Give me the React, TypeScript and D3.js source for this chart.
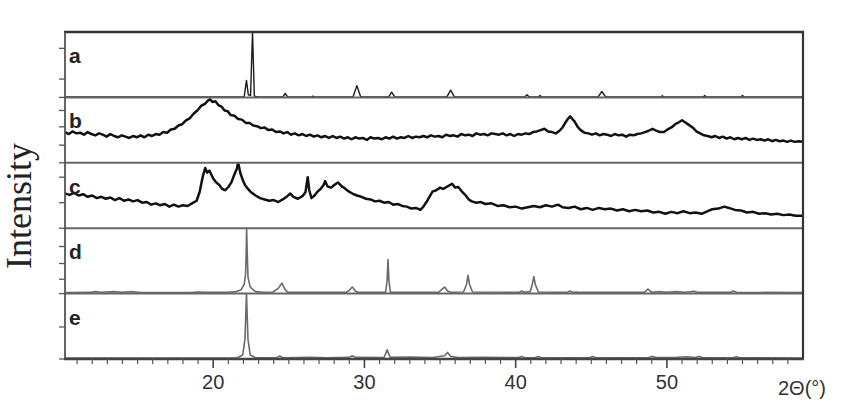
import React from 'react';
import * as d3 from 'd3';

type Pt = [number, number];

const panelLabels = ['a', 'b', 'c', 'd', 'e'];

// intensity in % of panel height, 2θ in degrees
const patternA: Pt[] = [
  [10.2, 0.6], [14.0, 0.8], [18.0, 0.6], [22.05, 0.8], [22.2, 26], [22.32, 4], [22.47, 3], [22.6, 100], [22.72, 2],
  [22.9, 0.7], [24.6, 0.7], [24.76, 6], [24.92, 0.7], [26.5, 0.6], [26.6, 2], [26.7, 0.6], [29.25, 0.9],
  [29.5, 18], [29.75, 0.9], [31.6, 0.7], [31.8, 8], [32.0, 0.7], [35.45, 0.9], [35.7, 11], [35.95, 0.9],
  [40.6, 0.7], [40.75, 4], [40.9, 0.7], [41.5, 0.6], [41.6, 3], [41.7, 0.6], [45.45, 0.9], [45.7, 9],
  [45.95, 0.9], [49.6, 0.6], [49.7, 2.5], [49.8, 0.6], [52.4, 0.6], [52.5, 3], [52.6, 0.6], [54.9, 0.6],
  [55.0, 3], [55.1, 0.6], [59.0, 0.6],
];

const patternB: Pt[] = [
  [10.2, 47], [10.45, 44], [10.7, 48], [10.95, 45], [11.2, 46], [11.45, 43], [11.7, 47], [11.95, 44], [12.2, 42],
  [12.45, 45], [12.7, 43], [12.95, 40], [13.2, 44], [13.45, 41], [13.7, 39], [13.95, 42], [14.2, 40], [14.45, 38],
  [14.7, 41], [14.95, 39], [15.2, 42], [15.45, 39], [15.7, 43], [15.95, 41], [16.2, 44], [16.45, 43], [16.7, 47],
  [16.95, 46], [17.2, 51], [17.45, 52], [17.7, 57], [17.95, 59], [18.2, 65], [18.45, 68], [18.7, 75], [18.95, 80],
  [19.2, 87], [19.45, 90], [19.65, 95], [19.8, 97], [19.95, 93], [20.15, 94], [20.35, 88], [20.55, 86], [20.75, 80],
  [20.95, 79], [21.15, 73], [21.4, 72], [21.65, 67], [21.9, 66], [22.15, 61], [22.4, 61], [22.65, 57], [22.9, 56],
  [23.15, 53], [23.4, 54], [23.65, 50], [23.9, 51], [24.15, 47], [24.4, 48], [24.65, 45], [24.9, 47], [25.15, 43],
  [25.4, 45], [25.65, 42], [25.9, 44], [26.15, 41], [26.4, 43], [26.65, 40], [26.9, 42], [27.15, 39], [27.4, 41],
  [27.65, 38], [27.9, 41], [28.15, 38], [28.4, 40], [28.65, 37], [28.9, 39], [29.15, 36], [29.4, 39], [29.65, 37],
  [29.9, 38], [30.15, 35], [30.4, 39], [30.65, 37], [30.9, 38], [31.15, 36], [31.4, 39], [31.65, 37], [31.9, 40],
  [32.15, 37], [32.4, 39], [32.65, 38], [32.9, 41], [33.15, 38], [33.4, 40], [33.65, 39], [33.9, 41], [34.15, 39],
  [34.4, 42], [34.65, 40], [34.9, 41], [35.15, 39], [35.4, 43], [35.65, 41], [35.9, 42], [36.15, 40], [36.4, 44],
  [36.65, 42], [36.9, 43], [37.15, 41], [37.4, 45], [37.65, 43], [37.9, 44], [38.15, 42], [38.4, 45], [38.65, 44],
  [38.9, 43], [39.15, 45], [39.4, 42], [39.65, 44], [39.9, 41], [40.15, 44], [40.4, 43], [40.65, 45], [40.9, 44],
  [41.15, 47], [41.4, 48], [41.65, 50], [41.9, 52], [42.15, 48], [42.4, 47], [42.65, 45], [42.9, 49], [43.1, 54],
  [43.3, 62], [43.45, 67], [43.6, 71], [43.75, 67], [43.9, 63], [44.1, 55], [44.3, 50], [44.55, 46], [44.8, 45],
  [45.05, 43], [45.3, 45], [45.55, 42], [45.8, 44], [46.05, 43], [46.3, 41], [46.55, 44], [46.8, 42], [47.05, 43],
  [47.3, 40], [47.55, 43], [47.8, 42], [48.05, 44], [48.3, 45], [48.55, 47], [48.8, 49], [49.05, 52], [49.3, 49],
  [49.55, 47], [49.8, 47], [50.05, 51], [50.3, 54], [50.55, 59], [50.8, 62], [51.0, 65], [51.2, 62], [51.45, 58],
  [51.7, 54], [51.95, 48], [52.2, 45], [52.45, 42], [52.7, 41], [52.95, 39], [53.2, 41], [53.45, 38], [53.7, 40],
  [53.95, 37], [54.2, 39], [54.45, 36], [54.7, 38], [54.95, 36], [55.2, 38], [55.45, 35], [55.7, 37], [55.95, 35],
  [56.2, 36], [56.45, 34], [56.7, 36], [56.95, 33], [57.2, 35], [57.45, 33], [57.7, 34], [57.95, 32], [58.2, 34],
  [58.45, 32], [58.7, 33], [59.0, 32],
];

const patternC: Pt[] = [
  [10.2, 53], [10.5, 51], [10.8, 54], [11.1, 50], [11.4, 52], [11.7, 48], [12.0, 50], [12.3, 46], [12.6, 48],
  [12.9, 45], [13.2, 47], [13.5, 43], [13.8, 46], [14.1, 42], [14.4, 44], [14.7, 41], [15.0, 43], [15.3, 39],
  [15.6, 40], [15.9, 36], [16.2, 38], [16.5, 35], [16.8, 37], [17.1, 33], [17.4, 36], [17.7, 33], [18.0, 35],
  [18.3, 34], [18.6, 38], [18.9, 42], [19.1, 55], [19.3, 78], [19.47, 92], [19.6, 85], [19.75, 88], [20.0, 76],
  [20.2, 70], [20.4, 66], [20.6, 60], [20.8, 58], [21.0, 63], [21.2, 70], [21.4, 82], [21.55, 90], [21.65, 100],
  [21.8, 84], [21.95, 74], [22.1, 66], [22.3, 60], [22.5, 55], [22.8, 50], [23.1, 46], [23.4, 44], [23.7, 42],
  [24.0, 43], [24.3, 40], [24.6, 44], [24.9, 49], [25.1, 53], [25.3, 48], [25.6, 45], [25.9, 49], [26.1, 55],
  [26.25, 78], [26.35, 58], [26.5, 46], [26.7, 50], [26.9, 56], [27.1, 60], [27.3, 66], [27.4, 72], [27.55, 64],
  [27.8, 62], [28.0, 66], [28.25, 70], [28.5, 64], [28.7, 61], [28.9, 57], [29.2, 53], [29.5, 50], [29.8, 48],
  [30.1, 45], [30.4, 44], [30.7, 41], [31.0, 42], [31.3, 39], [31.6, 40], [31.9, 36], [32.2, 37], [32.5, 34],
  [32.8, 33], [33.1, 30], [33.4, 31], [33.7, 28], [33.9, 33], [34.1, 40], [34.3, 48], [34.5, 56], [34.75, 58],
  [35.0, 62], [35.2, 60], [35.5, 64], [35.8, 68], [36.0, 62], [36.2, 63], [36.45, 56], [36.7, 50], [36.9, 44],
  [37.1, 41], [37.4, 39], [37.7, 40], [38.0, 37], [38.4, 38], [38.8, 34], [39.2, 35], [39.6, 32], [40.0, 33],
  [40.4, 30], [40.8, 32], [41.2, 34], [41.6, 32], [42.0, 35], [42.4, 33], [42.8, 36], [43.1, 32], [43.5, 31],
  [43.9, 33], [44.3, 29], [44.7, 31], [45.1, 28], [45.5, 31], [45.9, 29], [46.3, 30], [46.7, 27], [47.1, 29],
  [47.5, 26], [47.9, 28], [48.3, 26], [48.7, 27], [49.1, 24], [49.5, 25], [49.9, 22], [50.3, 25], [50.7, 23],
  [51.1, 26], [51.5, 23], [51.9, 24], [52.3, 22], [52.7, 26], [53.0, 29], [53.4, 30], [53.8, 33], [54.1, 31],
  [54.5, 28], [54.9, 27], [55.3, 24], [55.7, 25], [56.1, 22], [56.5, 23], [56.9, 21], [57.3, 22], [57.7, 20],
  [58.1, 21], [58.5, 19], [59.0, 19],
];

const patternD: Pt[] = [
  [10.2, 1.5], [11.8, 1.8], [12.2, 3], [12.6, 2], [13.4, 3], [14.0, 2], [14.6, 3], [15.2, 1.6], [18.5, 1.6],
  [19.0, 2.5], [19.6, 1.8], [21.0, 2], [21.5, 3], [21.85, 6], [22.05, 14], [22.14, 30], [22.18, 62], [22.21, 100],
  [22.25, 62], [22.3, 25], [22.45, 10], [22.8, 3], [23.3, 2], [23.95, 2.5], [24.3, 8], [24.54, 16], [24.75, 6],
  [24.95, 2], [28.8, 2], [29.0, 5], [29.2, 10], [29.45, 3], [29.7, 1.8], [31.4, 2], [31.5, 20], [31.56, 52],
  [31.62, 20], [31.72, 2], [34.9, 2], [35.1, 6], [35.3, 10], [35.5, 4], [35.7, 2], [36.55, 2.5], [36.75, 14],
  [36.85, 28], [36.95, 14], [37.15, 2.5], [40.25, 2], [40.4, 4], [40.55, 2], [40.95, 3], [41.1, 14], [41.2, 26],
  [41.3, 14], [41.5, 2.5], [43.4, 1.8], [43.6, 4], [43.8, 1.8], [44.0, 2.5], [44.3, 1.8], [48.5, 2],
  [48.75, 7], [49.0, 2], [49.5, 3], [50.0, 2], [50.6, 3], [51.2, 2], [51.8, 3.5], [52.1, 1.8], [54.2, 2],
  [54.4, 4], [54.6, 2], [59.0, 1.5],
];

const patternE: Pt[] = [
  [10.2, 1.5], [21.0, 1.5], [21.6, 2], [21.95, 6], [22.1, 30], [22.2, 100], [22.3, 30], [22.45, 6],
  [22.8, 2], [24.2, 2], [24.4, 4.5], [24.6, 2], [25.6, 2.2], [26.4, 2.6], [27.5, 2], [29.0, 2.5], [29.2, 5],
  [29.4, 2.5], [31.3, 2.2], [31.5, 14], [31.7, 2.5], [33.0, 2.8], [34.5, 2.4], [35.3, 5], [35.5, 10], [35.7, 4],
  [36.2, 2.2], [37.8, 2.6], [40.2, 2.2], [40.4, 4], [40.6, 2], [41.3, 2.2], [41.5, 4], [41.7, 2], [44.9, 2.2],
  [45.1, 4], [45.3, 2], [48.8, 2.4], [49.0, 4], [49.3, 2.2], [50.7, 2.6], [51.3, 3.4], [51.9, 2.4], [52.1, 4],
  [52.4, 2], [54.4, 2.2], [54.6, 3.5], [54.8, 2], [59.0, 1.5],
];

const patterns: Pt[][] = [patternA, patternB, patternC, patternD, patternE];

const panelYTicks: number[][] = [
  [0, 28, 75],
  [0, 27, 55, 80],
  [0, 39, 78],
  [0, 22, 46, 72],
  [0, 49],
];

const xMajorTicks = [20, 30, 40, 50];
const xTickLabels = ['20', '30', '40', '50'];
const xDomain: [number, number] = [10.2, 59];
const xLabel = '2\u0398(\u00b0)';
const yLabel = 'Intensity';

export default function App() {
  const W = 845;
  const H = 410;
  const left = 65;
  const right = 803;
  const top = 32;
  const bottom = 359;
  const n = patterns.length;
  const ph = (bottom - top) / n;

  const x = d3.scaleLinear().domain(xDomain).range([left, right]);
  const minorTicks = d3.range(11, 59, 1).filter((v) => v % 10 !== 0);

  const lineStyles = [
    { stroke: '#1c1c1c', width: 1.4 },
    { stroke: '#111', width: 2.5 },
    { stroke: '#111', width: 2.5 },
    { stroke: '#6a6a6a', width: 1.6 },
    { stroke: '#6a6a6a', width: 1.6 },
  ];

  return (
    <svg
      width={W}
      height={H}
      style={{ position: 'absolute', left: 0, top: 0, background: '#fff' }}
      xmlns="http://www.w3.org/2000/svg"
    >
      <defs>
        {patterns.map((_, i) => (
          <clipPath id={`clip${i}`} key={i}>
            <rect x={left} y={top + i * ph - 1} width={right - left} height={ph + 1} />
          </clipPath>
        ))}
      </defs>
      {patterns.map((data, i) => {
        const y0 = top + (i + 1) * ph;
        const y1 = top + i * ph;
        const y = d3.scaleLinear().domain([0, 100]).range([y0, y1]);
        const line = d3
          .line<Pt>()
          .x((d) => x(d[0]))
          .y((d) => y(d[1]));
        const st = lineStyles[i];
        return (
          <g key={i}>
            {panelYTicks[i].map((t) => (
              <line key={t} x1={left - 6} x2={left} y1={y(t)} y2={y(t)} stroke="#555" strokeWidth={1.3} />
            ))}
            <path
              d={line(data) || ''}
              fill="none"
              stroke={st.stroke}
              strokeWidth={st.width}
              strokeLinejoin="round"
              clipPath={`url(#clip${i})`}
            />
            <text
              x={69}
              y={y1 + 31}
              fontFamily="Liberation Sans, Arial, sans-serif"
              fontWeight="bold"
              fontSize={21}
              fill="#222"
            >
              {panelLabels[i]}
            </text>
            {i > 0 && <line x1={left} x2={right} y1={y1} y2={y1} stroke="#666" strokeWidth={2} />}
          </g>
        );
      })}
      {/* frame */}
      <line x1={left - 1} x2={right + 1} y1={top} y2={top} stroke="#333" strokeWidth={2.6} />
      <line x1={left} x2={left} y1={top} y2={bottom} stroke="#555" strokeWidth={1.8} />
      <line x1={right} x2={right} y1={top} y2={bottom} stroke="#333" strokeWidth={2.2} />
      <line x1={left - 1} x2={right + 1} y1={bottom} y2={bottom} stroke="#444" strokeWidth={2.4} />
      {/* x ticks */}
      {minorTicks.map((t) => (
        <line key={t} x1={x(t)} x2={x(t)} y1={bottom} y2={bottom + 5} stroke="#555" strokeWidth={1.2} />
      ))}
      {xMajorTicks.map((t, i) => (
        <g key={t}>
          <line x1={x(t)} x2={x(t)} y1={bottom} y2={bottom + 9} stroke="#444" strokeWidth={1.6} />
          <text
            x={x(t)}
            y={389}
            textAnchor="middle"
            fontFamily="Liberation Sans, Arial, sans-serif"
            fontSize={20}
            fill="#333"
          >
            {xTickLabels[i]}
          </text>
        </g>
      ))}
      <text x={778} y={395} fontFamily="Liberation Sans, Arial, sans-serif" fontSize={20} fill="#333">
        {xLabel}
      </text>
      <text
        transform="translate(31,206) rotate(-90)"
        textAnchor="middle"
        fontFamily="Liberation Serif, Times New Roman, serif"
        fontSize={36}
        fill="#222"
      >
        {yLabel}
      </text>
    </svg>
  );
}
